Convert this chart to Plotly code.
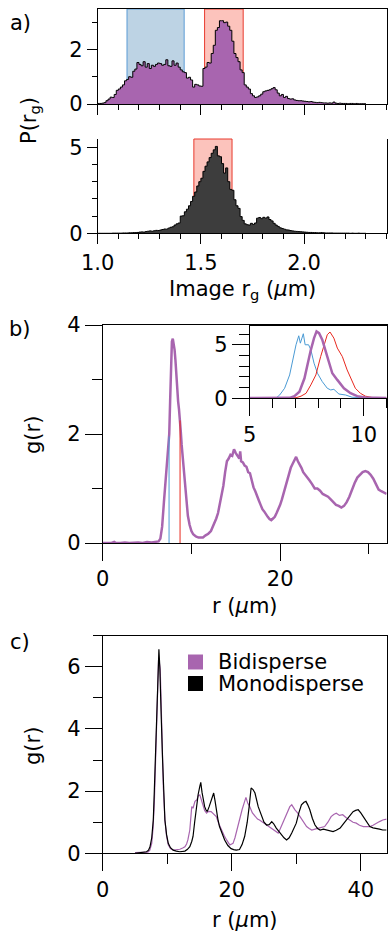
import numpy as np
import plotly.graph_objects as go

W, H = 388, 940
FONT = "DejaVu Sans"
FS = 21
PURPLE = "#A865AF"
DARK = "#3D3D3D"
BLUE = "#4A9AD4"
RED = "#E8281E"

# ---------------- panel a data (histograms, bin width 0.01 starting at 1.00) ----------------
bin_start = 1.00
bin_width = 0.01
p_bidisperse = [
    0.02, 0.02, 0.03, 0.05, 0.12, 0.18, 0.25, 0.24, 0.35, 0.50,
    0.55, 0.62, 0.70, 0.85, 0.90, 1.00, 0.98, 1.20, 1.28, 1.52,
    1.45, 1.40, 1.55, 1.35, 1.48, 1.30, 1.42, 1.38, 1.45, 1.50,
    1.48, 1.42, 1.45, 1.62, 1.40, 1.38, 1.58, 1.42, 1.50, 1.35,
    1.25, 1.18, 1.15, 0.95, 0.98, 0.88, 0.62, 0.72, 0.70, 0.66,
    0.65, 1.30, 1.35, 1.52, 1.50, 1.85, 2.15, 2.70, 2.80, 3.05,
    3.05, 2.98, 3.00, 2.85, 2.70, 2.30, 1.85, 1.70, 1.55, 1.25,
    1.15, 0.70, 0.62, 0.55, 0.38, 0.30, 0.24, 0.26, 0.30, 0.36,
    0.45, 0.48, 0.50, 0.52, 0.56, 0.60, 0.52, 0.40, 0.30, 0.35,
    0.24, 0.28, 0.20, 0.18, 0.19, 0.15, 0.13, 0.12, 0.12, 0.11,
    0.10, 0.09, 0.08, 0.09, 0.07, 0.06, 0.05, 0.06, 0.05, 0.04,
    0.04, 0.03, 0.04, 0.03, 0.07, 0.03, 0.02, 0.03, 0.02, 0.02,
    0.02, 0.01, 0.02, 0.02, 0.01, 0.02, 0.01, 0.01, 0.01, 0.01,
]
p_monodisperse = [
    0.00, 0.00, 0.00, 0.00, 0.00, 0.00, 0.00, 0.01, 0.01, 0.01,
    0.01, 0.01, 0.02, 0.02, 0.02, 0.03, 0.03, 0.04, 0.04, 0.05,
    0.07, 0.08, 0.07, 0.10, 0.12, 0.14, 0.12, 0.15, 0.17, 0.16,
    0.19, 0.22, 0.25, 0.24, 0.30, 0.35, 0.38, 0.48, 0.55, 0.60,
    1.00, 1.02, 1.25, 1.40, 1.60, 1.85, 2.15, 2.40, 2.75, 3.00,
    3.20, 3.60, 3.90, 4.15, 4.40, 4.65, 4.85, 5.05, 4.50, 4.45,
    4.05, 3.50, 3.80, 3.00, 2.55, 2.50, 1.95, 1.60, 1.45, 0.97,
    0.75, 0.55, 0.50, 0.48, 0.58, 0.52, 0.60, 0.88, 0.92, 0.85,
    0.93, 0.88, 0.95, 0.80, 0.72, 0.58, 0.48, 0.40, 0.32, 0.28,
    0.24, 0.20, 0.19, 0.16, 0.14, 0.12, 0.11, 0.10, 0.09, 0.08,
    0.07, 0.06, 0.05, 0.05, 0.04, 0.04, 0.03, 0.03, 0.04, 0.03,
    0.02, 0.02, 0.02, 0.02, 0.01, 0.01, 0.01, 0.01, 0.01, 0.01,
    0.01, 0.01, 0.00, 0.01, 0.00, 0.00, 0.01, 0.00, 0.00, 0.00,
]
small_band = [1.142, 1.419]      # blue selection (bidisperse small)
large_band = [1.518, 1.705]      # red selection (bidisperse large)
mono_band = [1.466, 1.651]       # red selection (monodisperse)

# ---------------- panel b data ----------------
r_b = [0.0, 0.5, 1.0, 1.3, 1.5, 2.0, 2.5, 3.0, 3.5, 4.0, 4.5, 5.0, 5.5, 6.0, 6.3,
       6.5, 6.7, 6.9, 7.1, 7.3, 7.5, 7.6, 7.7, 7.8, 7.9, 8.0, 8.1, 8.2, 8.3, 8.4,
       8.5, 8.6, 8.7, 8.8, 8.9, 9.0, 9.1, 9.2, 9.3, 9.4, 9.5, 9.6, 9.8, 10.0, 10.2,
       10.5, 10.8, 11.0, 11.3, 11.6, 11.9, 12.2, 12.5, 12.8, 13.0, 13.2, 13.4, 13.6,
       13.8, 14.0, 14.2, 14.4, 14.6, 14.8, 15.0, 15.2, 15.4, 15.5, 15.6, 15.8, 16.0,
       16.2, 16.4, 16.6, 16.8, 17.0, 17.2, 17.4, 17.6, 17.8, 18.0, 18.2, 18.4, 18.6,
       18.8, 19.0, 19.2, 19.4, 19.6, 19.8, 20.0, 20.2, 20.4, 20.6, 20.8, 21.0, 21.2,
       21.4, 21.6, 21.8, 22.0, 22.2, 22.4, 22.6, 22.8, 23.0, 23.3, 23.6, 23.9, 24.2,
       24.5, 24.8, 25.1, 25.4, 25.7, 26.0, 26.3, 26.6, 26.9, 27.2, 27.5, 27.8, 28.1,
       28.4, 28.7, 29.0, 29.3, 29.6, 29.9, 30.2, 30.5, 30.8, 31.1, 31.4, 31.7, 32.0]
g_b = [0.00, 0.00, 0.00, 0.02, 0.00, 0.00, 0.01, 0.00, 0.01, 0.01, 0.00, 0.02, 0.01, 0.02, 0.03,
       0.08, 0.30, 0.75, 1.20, 1.55, 2.00, 2.60, 3.30, 3.70, 3.75, 3.65, 3.55, 3.35, 3.05, 2.80,
       2.60, 2.45, 2.30, 2.05, 1.80, 1.60, 1.40, 1.15, 0.95, 0.78, 0.62, 0.50, 0.33, 0.22, 0.16,
       0.12, 0.10, 0.10, 0.10, 0.14, 0.17, 0.22, 0.32, 0.45, 0.55, 0.72, 0.90, 1.05,
       1.30, 1.50, 1.55, 1.62, 1.60, 1.72, 1.65, 1.60, 1.55, 1.68, 1.50, 1.48, 1.42,
       1.40, 1.30, 1.28, 1.15, 1.02, 0.95, 0.85, 0.78, 0.70, 0.62, 0.58, 0.52, 0.48,
       0.44, 0.42, 0.45, 0.48, 0.55, 0.62, 0.70, 0.80, 0.92, 1.02, 1.12, 1.25, 1.38,
       1.45, 1.52, 1.58, 1.50, 1.45, 1.38, 1.30, 1.25, 1.22, 1.15, 1.08, 1.00, 1.00,
       0.96, 0.90, 0.88, 0.85, 0.80, 0.74, 0.70, 0.68, 0.65, 0.68, 0.75, 0.85, 0.98,
       1.10, 1.20, 1.25, 1.30, 1.32, 1.30, 1.25, 1.18, 1.08, 0.98, 0.95, 0.92, 0.90]
marker_r = [7.48, 8.72]          # blue / red reference radii

# inset (partial g(r))
r_small = [5.0, 5.5, 6.0, 6.17, 6.31, 6.53, 6.75, 6.89, 7.03, 7.15, 7.22, 7.35, 7.43, 7.58,
           7.68, 7.82, 7.97, 8.18, 8.40, 8.55, 8.69, 8.91, 9.2, 9.49, 9.92, 10.5, 11.0]
g_small = [0.02, 0.03, 0.04, 0.05, 0.30, 0.94, 2.18, 3.59, 5.00, 5.84, 5.15, 6.03, 5.00, 5.00,
           4.53, 3.28, 2.34, 1.56, 0.94, 0.78, 0.84, 0.40, 0.31, 0.10, 0.05, 0.03, 0.02]
r_large = [5.0, 5.5, 6.0, 6.5, 7.03, 7.25, 7.47, 7.68, 7.90, 8.11, 8.26, 8.40, 8.52, 8.69,
           8.84, 9.06, 9.27, 9.46, 9.63, 9.85, 10.07, 10.36, 10.7, 11.0]
g_large = [0.02, 0.02, 0.03, 0.04, 0.05, 0.20, 0.47, 1.25, 2.18, 3.90, 5.00, 5.94, 6.19, 5.62,
           4.69, 3.90, 2.65, 1.72, 0.94, 0.47, 0.20, 0.08, 0.04, 0.03]
r_all = [5.0, 5.5, 6.0, 6.5, 6.75, 6.96, 7.18, 7.40, 7.54, 7.68, 7.82, 7.93, 8.04, 8.18,
         8.40, 8.62, 8.84, 9.13, 9.42, 9.71, 10.07, 10.5, 11.0]
g_all = [0.02, 0.02, 0.03, 0.03, 0.04, 0.20, 0.62, 1.87, 3.28, 4.53, 5.62, 6.25, 6.09, 5.47,
         3.90, 2.34, 1.72, 0.94, 0.47, 0.20, 0.08, 0.04, 0.03]

# ---------------- panel c data ----------------
r_mono = [5.0, 5.5, 6.0, 6.5, 6.8, 7.1, 7.33, 7.6, 7.84, 8.0, 8.2, 8.35, 8.51, 8.71, 8.85,
          8.97, 9.1, 9.28, 9.45, 9.64, 9.9, 10.16, 10.5, 10.93, 11.4, 11.96, 12.4, 12.74,
          13.1, 13.5, 13.8, 14.0, 14.25, 14.5, 14.8, 15.05, 15.2, 15.4, 15.56, 15.8, 16.0,
          16.2, 16.5, 16.8, 17.0, 17.2, 17.4, 17.6, 17.85, 18.1, 18.5, 18.9, 19.4, 19.9,
          20.3, 20.7, 21.2, 21.6, 22.0, 22.4, 22.7, 23.0, 23.3, 23.6, 24.1, 24.6, 25.0,
          25.4, 25.8, 26.2, 26.5, 26.9, 27.3, 27.7, 28.1, 28.5, 28.9, 29.3, 29.7, 30.0,
          30.4, 30.8, 31.2, 31.5, 31.8, 32.1, 32.5, 32.9, 33.3, 33.7, 34.2, 34.7, 35.2,
          35.7, 36.2, 36.8, 37.3, 37.8, 38.3, 38.8, 39.2, 39.6, 40.0, 40.4, 40.9, 41.4,
          41.9, 42.4, 42.9, 43.4, 44.0]
g_mono = [0.00, 0.01, 0.01, 0.02, 0.05, 0.10, 0.21, 0.50, 1.07, 2.00, 3.23, 4.50, 5.59, 6.56, 6.00,
          5.37, 4.20, 3.01, 1.90, 1.07, 0.60, 0.32, 0.18, 0.10, 0.07, 0.05, 0.06, 0.07,
          0.12, 0.21, 0.38, 0.54, 1.00, 1.50, 1.90, 2.15, 2.28, 1.95, 1.72, 1.50, 1.40,
          1.34, 1.50, 1.72, 1.85, 1.94, 1.70, 1.40, 1.10, 0.86, 0.62, 0.43, 0.25, 0.15,
          0.12, 0.10, 0.12, 0.28, 0.54, 1.00, 1.50, 2.10, 2.05, 1.94, 1.50, 1.18, 1.00,
          0.91, 0.92, 1.02, 0.95, 0.81, 0.70, 0.59, 0.50, 0.43, 0.50, 0.65, 0.82, 0.97,
          1.30, 1.56, 1.64, 1.67, 1.55, 1.40, 1.12, 0.91, 0.80, 0.75, 0.78, 0.75, 0.72,
          0.70, 0.74, 0.81, 0.95, 1.07, 1.20, 1.34, 1.38, 1.40, 1.30, 1.18, 1.00, 0.86,
          0.82, 0.81, 0.78, 0.75, 0.75]
r_bi = [5.0, 5.5, 6.0, 6.5, 7.0, 7.3, 7.6, 7.8, 8.0, 8.2, 8.37, 8.52, 8.66, 8.8, 8.92, 9.05,
        9.23, 9.4, 9.64, 9.9, 10.16, 10.5, 10.93, 11.4, 11.96, 12.4, 12.74, 13.0, 13.2, 13.5,
        13.7, 13.8, 14.0, 14.3, 14.6, 14.8, 15.05, 15.3, 15.56, 15.8, 16.1, 16.4, 16.8, 17.2,
        17.6, 18.0, 18.4, 18.8, 19.2, 19.5, 19.7, 20.0, 20.2, 20.5, 20.8, 21.0, 21.3, 21.6,
        22.0, 22.2, 22.5, 22.8, 23.2, 23.6, 24.0, 24.3, 24.8, 25.4, 25.9, 26.4, 26.8, 27.2,
        27.5, 27.9, 28.3, 28.7, 29.0, 29.3, 29.6, 29.8, 30.2, 30.6, 31.1, 31.6, 32.0, 32.4,
        32.9, 33.4, 33.9, 34.4, 34.9, 35.4, 35.8, 36.2, 36.7, 37.2, 37.7, 38.3, 38.8, 39.3,
        39.8, 40.4, 40.9, 41.4, 41.9, 42.4, 42.9, 43.4, 44.0]
g_bi = [0.02, 0.02, 0.03, 0.03, 0.04, 0.10, 0.32, 0.80, 1.61, 3.00, 4.30, 5.50, 6.24, 6.10, 5.91, 4.90,
        3.44, 2.10, 1.07, 0.55, 0.27, 0.15, 0.10, 0.11, 0.13, 0.17, 0.21, 0.30, 0.43, 0.75,
        1.20, 1.50, 1.45, 1.67, 1.72, 1.85, 1.88, 1.70, 1.50, 1.38, 1.29, 1.35, 1.34, 1.25,
        1.18, 0.95, 0.75, 0.58, 0.43, 0.33, 0.27, 0.30, 0.32, 0.50, 0.75, 0.95, 1.18, 1.40,
        1.67, 1.80, 1.60, 1.50, 1.30, 1.18, 1.10, 1.07, 1.00, 0.91, 0.82, 0.75, 0.70, 0.65,
        0.78, 0.97, 1.20, 1.40, 1.50, 1.56, 1.45, 1.40, 1.30, 1.18, 1.00, 0.86, 0.80, 0.75,
        0.78, 0.81, 0.84, 0.86, 1.00, 1.18, 1.25, 1.29, 1.22, 1.24, 1.15, 1.07, 1.00, 0.97,
        0.90, 0.86, 0.85, 0.86, 0.90, 0.97, 1.02, 1.07, 1.10]
legend_names = ["Bidisperse", "Monodisperse"]
legend_colors = [PURPLE, "#000000"]


def px(x):
    return x / W


def py(y):
    return 1 - y / H


fig = go.Figure()


def step_trace(values, fill, xa, ya):
    n = len(values)
    edges = np.round(bin_start + bin_width * np.arange(n + 1), 3)
    yy = list(values) + [values[-1]]
    return go.Scatter(x=edges, y=yy, mode="lines", line=dict(shape="hv", color="black", width=1),
                      fill="tozeroy", fillcolor=fill, xaxis=xa, yaxis=ya, showlegend=False,
                      hoverinfo="skip")


fig.add_trace(step_trace(p_bidisperse, PURPLE, "x", "y"))
fig.add_trace(step_trace(p_monodisperse, DARK, "x2", "y2"))

# panel b main curve + reference lines
fig.add_trace(go.Scatter(x=r_b, y=g_b, mode="lines", line=dict(color=PURPLE, width=2.5),
                         xaxis="x3", yaxis="y3", showlegend=False))
for rr, col in zip(marker_r, [BLUE, RED]):
    top = float(np.interp(rr, r_b, g_b))
    fig.add_trace(go.Scatter(x=[rr, rr], y=[0, top], mode="lines", line=dict(color=col, width=1),
                             xaxis="x3", yaxis="y3", showlegend=False))

# inset
fig.add_trace(go.Scatter(x=r_small, y=g_small, mode="lines", line=dict(color=BLUE, width=1),
                         xaxis="x4", yaxis="y4", showlegend=False))
fig.add_trace(go.Scatter(x=r_large, y=g_large, mode="lines", line=dict(color=RED, width=1),
                         xaxis="x4", yaxis="y4", showlegend=False))
fig.add_trace(go.Scatter(x=r_all, y=g_all, mode="lines", line=dict(color=PURPLE, width=2.5),
                         xaxis="x4", yaxis="y4", showlegend=False))

# panel c
fig.add_trace(go.Scatter(x=r_bi, y=g_bi, mode="lines", line=dict(color=PURPLE, width=1.2),
                         xaxis="x5", yaxis="y5", showlegend=False))
fig.add_trace(go.Scatter(x=r_mono, y=g_mono, mode="lines", line=dict(color="black", width=1.2),
                         xaxis="x5", yaxis="y5", showlegend=False))

tickfont = dict(family=FONT, size=FS, color="black")


def axis(domain, rng, dtick, mdtick, tl, mtl, labels=True, mirror=True, fmt=None):
    d = dict(domain=domain, range=rng, dtick=dtick, tick0=0, ticks="outside", ticklen=tl,
             tickwidth=1, tickcolor="black", showline=True, linecolor="black", linewidth=1,
             mirror=mirror, showgrid=False, zeroline=False, showticklabels=labels,
             tickfont=tickfont, fixedrange=True, automargin=False,
             minor=dict(dtick=mdtick, tick0=0, ticks="outside", ticklen=mtl, tickwidth=1,
                        tickcolor="black", showgrid=False))
    if fmt:
        d["tickformat"] = fmt
    return d


xa_dom = [px(97.7), px(386.6)]
xb_dom = [px(102.7), px(386.6)]
fig.update_layout(
    xaxis=dict(axis(xa_dom, [1.0, 2.4], 0.5, 0.1, 10, 5, labels=False), anchor="y"),
    yaxis=dict(axis([py(104), py(9)], [0, 3.48], 2, 1, 10, 5), anchor="x"),
    xaxis2=dict(axis(xa_dom, [1.0, 2.4], 0.5, 0.1, 10, 5, mirror=False, fmt=".1f"), anchor="y2"),
    yaxis2=dict(axis([py(233.3), py(139)], [0, 5.48], 5, 1, 10, 5), anchor="x2"),
    xaxis3=dict(axis(xb_dom, [0, 32], 20, 10, 17, 10), anchor="y3"),
    yaxis3=dict(axis([py(543), py(325)], [0, 4], 2, 1, 17, 10), anchor="x3"),
    xaxis4=dict(axis([px(249.7), px(386.6)], [5, 11], 5, 1, 17, 9), anchor="y4"),
    yaxis4=dict(axis([py(398.3), py(325.5)], [0, 6.8], 5, 1, 17, 10), anchor="x4"),
    xaxis5=dict(axis(xb_dom, [0, 44], 20, 10, 17, 10), anchor="y5"),
    yaxis5=dict(axis([py(853.3), py(635.7)], [0, 7], 2, 1, 17, 9), anchor="x5"),
)

shapes = []
for (a, b), fillc, linec, xr, yr in [
    (small_band, "#BDD3E4", "#5B9BD5", "x", "y domain"),
    (large_band, "#FCC3BC", "#E83A2E", "x", "y domain"),
    (mono_band, "#FCC3BC", "#E83A2E", "x2", "y2 domain"),
]:
    shapes.append(dict(type="rect", xref=xr, yref=yr, x0=a, x1=b, y0=0, y1=1, layer="below",
                       fillcolor=fillc, line=dict(color=linec, width=1)))

# manual legend for panel c
annotations = []
for i, (name, col) in enumerate(zip(legend_names, legend_colors)):
    yc = 662 + 21.5 * i
    shapes.append(dict(type="rect", xref="paper", yref="paper", x0=px(188), x1=px(203),
                       y0=py(yc + 7.5), y1=py(yc - 7.5), fillcolor=col, line=dict(width=0)))
    annotations.append(dict(text=name, xref="paper", yref="paper", x=px(216), y=py(yc),
                            xanchor="left", yanchor="middle", showarrow=False,
                            font=dict(family=FONT, size=FS, color="black")))

lab = dict(family=FONT, size=FS, color="black")
for t, x, y in [("a)", 20, 23), ("b)", 20, 329), ("c)", 20, 642)]:
    annotations.append(dict(text=t, xref="paper", yref="paper", x=px(x), y=py(y), xanchor="center",
                            yanchor="middle", showarrow=False, font=lab))
for t, x, y in [("P(r<sub>g</sub>)", 30, 121), ("g(r)", 33, 435), ("g(r)", 33, 746)]:
    annotations.append(dict(text=t, xref="paper", yref="paper", x=px(x), y=py(y), xanchor="center",
                            yanchor="middle", showarrow=False, textangle=-90, font=lab))
for t, x, y in [("Image r<sub>g</sub> (<i>μ</i>m)", 242, 290), ("r (<i>μ</i>m)", 245, 606),
                ("r (<i>μ</i>m)", 245, 920)]:
    annotations.append(dict(text=t, xref="paper", yref="paper", x=px(x), y=py(y), xanchor="center",
                            yanchor="middle", showarrow=False, font=lab))

fig.update_layout(width=W, height=H, margin=dict(l=0, r=0, t=0, b=0, autoexpand=False),
                  paper_bgcolor="white", hovermode=False,
                  plot_bgcolor="white", shapes=shapes, annotations=annotations, showlegend=False,
                  font=dict(family=FONT, size=FS, color="black"))

fig.write_html("out.html", config={"displayModeBar": False, "staticPlot": True},
               post_script="document.body.style.margin='0';document.body.style.overflow='hidden';")
